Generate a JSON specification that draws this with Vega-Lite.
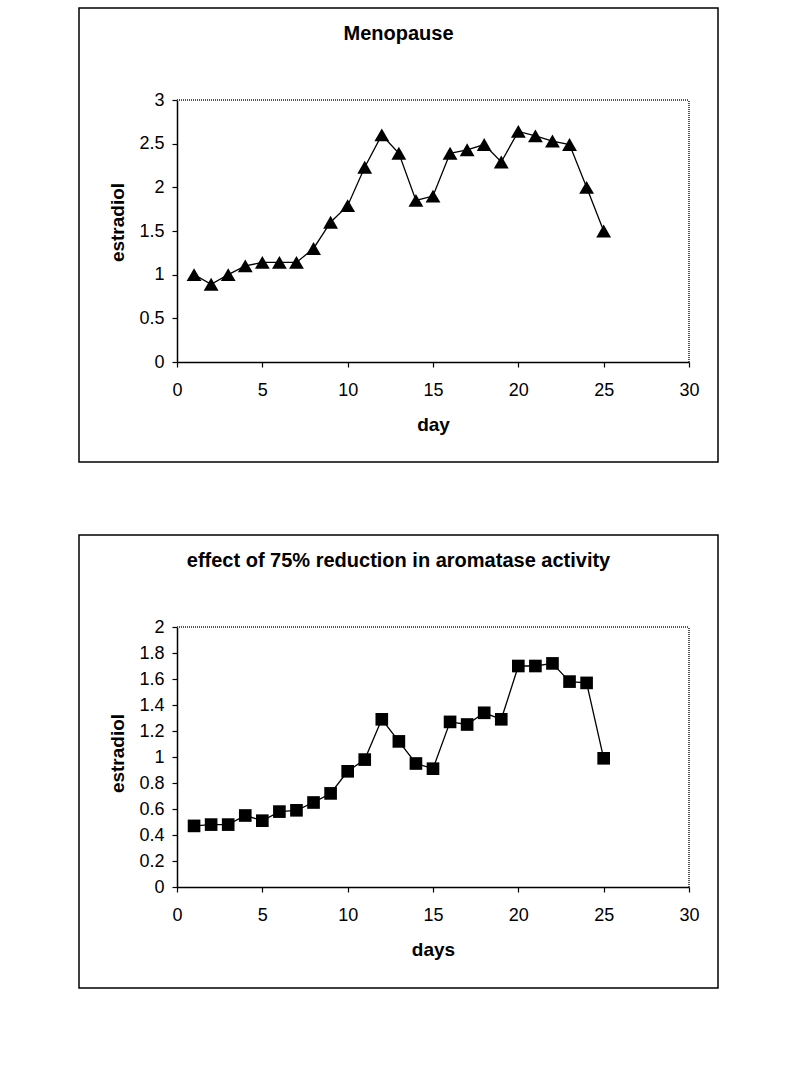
{
  "$schema": "https://vega.github.io/schema/vega-lite/v6.json",
  "padding": {"left": 78, "top": 7, "right": 0, "bottom": 0},
  "background": "white",
  "config": {
    "font": "Liberation Sans",
    "view": {"stroke": "black", "strokeWidth": 1.5},
    "axis": {
      "labelFont": "Liberation Sans", "labelFontSize": 18, "labelColor": "black", "labelFlush": false, "labelOverlap": false,
      "titleFont": "Liberation Sans", "titleFontSize": 19, "titleFontWeight": "bold", "titleColor": "black",
      "domainColor": "black", "domainWidth": 1.5, "tickColor": "black", "tickWidth": 1.2, "tickSize": 5,
      "grid": false
    },
    "title": {"font": "Liberation Sans", "fontSize": 20, "fontWeight": "bold", "color": "black", "anchor": "middle", "frame": "group"}
  },
  "datasets": {
    "meno": [
      {"day": 1, "estradiol": 1.0}, {"day": 2, "estradiol": 0.89}, {"day": 3, "estradiol": 1.0},
      {"day": 4, "estradiol": 1.1}, {"day": 5, "estradiol": 1.14}, {"day": 6, "estradiol": 1.14},
      {"day": 7, "estradiol": 1.14}, {"day": 8, "estradiol": 1.3}, {"day": 9, "estradiol": 1.6},
      {"day": 10, "estradiol": 1.79}, {"day": 11, "estradiol": 2.23}, {"day": 12, "estradiol": 2.6},
      {"day": 13, "estradiol": 2.39}, {"day": 14, "estradiol": 1.85}, {"day": 15, "estradiol": 1.9},
      {"day": 16, "estradiol": 2.39}, {"day": 17, "estradiol": 2.43}, {"day": 18, "estradiol": 2.49},
      {"day": 19, "estradiol": 2.29}, {"day": 20, "estradiol": 2.64}, {"day": 21, "estradiol": 2.59},
      {"day": 22, "estradiol": 2.53}, {"day": 23, "estradiol": 2.49}, {"day": 24, "estradiol": 2.0},
      {"day": 25, "estradiol": 1.5}
    ],
    "arom": [
      {"day": 1, "estradiol": 0.47}, {"day": 2, "estradiol": 0.48}, {"day": 3, "estradiol": 0.48},
      {"day": 4, "estradiol": 0.55}, {"day": 5, "estradiol": 0.51}, {"day": 6, "estradiol": 0.58},
      {"day": 7, "estradiol": 0.59}, {"day": 8, "estradiol": 0.65}, {"day": 9, "estradiol": 0.72},
      {"day": 10, "estradiol": 0.89}, {"day": 11, "estradiol": 0.98}, {"day": 12, "estradiol": 1.29},
      {"day": 13, "estradiol": 1.12}, {"day": 14, "estradiol": 0.95}, {"day": 15, "estradiol": 0.91},
      {"day": 16, "estradiol": 1.27}, {"day": 17, "estradiol": 1.25}, {"day": 18, "estradiol": 1.34},
      {"day": 19, "estradiol": 1.29}, {"day": 20, "estradiol": 1.7}, {"day": 21, "estradiol": 1.7},
      {"day": 22, "estradiol": 1.72}, {"day": 23, "estradiol": 1.58}, {"day": 24, "estradiol": 1.57},
      {"day": 25, "estradiol": 0.99}
    ]
  },
  "vconcat": [
    {
      "width": 639, "height": 454,
      "title": {"text": "Menopause", "offset": -52, "baseline": "alphabetic"},
      "data": {"name": "meno"},
      "encoding": {
        "x": {"field": "day", "type": "quantitative",
          "scale": {"domain": [0, 30], "range": [98, 610], "nice": false, "zero": false},
          "axis": {"title": "day", "values": [0, 5, 10, 15, 20, 25, 30], "offset": -100, "labelPadding": 14, "titlePadding": 16}},
        "y": {"field": "estradiol", "type": "quantitative",
          "scale": {"domain": [0, 3], "range": [354, 92], "nice": false},
          "axis": {"title": "estradiol", "values": [0, 0.5, 1, 1.5, 2, 2.5, 3], "format": ".1~f", "offset": -98, "labelPadding": 8, "titlePadding": 11, "titleY": 214}}
      },
      "layer": [
        {"mark": {"type": "rule", "color": "#555555", "strokeDash": [1, 1], "strokeWidth": 1},
         "encoding": {"x": {"datum": 0}, "x2": {"datum": 30}, "y": {"datum": 3}}},
        {"mark": {"type": "rule", "color": "#555555", "strokeDash": [1, 1], "strokeWidth": 1},
         "encoding": {"x": {"datum": 30}, "y": {"datum": 0}, "y2": {"datum": 3}}},
        {"mark": {"type": "line", "color": "black", "strokeWidth": 1.3}},
        {"mark": {"type": "point", "shape": "triangle-up", "filled": true, "color": "black", "size": 220, "opacity": 1}}
      ]
    },
    {
      "width": 639, "height": 453,
      "title": {"text": "effect of 75% reduction in aromatase activity", "offset": -52, "baseline": "alphabetic"},
      "data": {"name": "arom"},
      "encoding": {
        "x": {"field": "day", "type": "quantitative",
          "scale": {"domain": [0, 30], "range": [98, 610], "nice": false, "zero": false},
          "axis": {"title": "days", "values": [0, 5, 10, 15, 20, 25, 30], "offset": -101, "labelPadding": 14, "titlePadding": 16}},
        "y": {"field": "estradiol", "type": "quantitative",
          "scale": {"domain": [0, 2], "range": [352, 92], "nice": false},
          "axis": {"title": "estradiol", "values": [0, 0.2, 0.4, 0.6, 0.8, 1, 1.2, 1.4, 1.6, 1.8, 2], "format": ".1~f", "offset": -98, "labelPadding": 8, "titlePadding": 11, "titleY": 218}}
      },
      "layer": [
        {"mark": {"type": "rule", "color": "#555555", "strokeDash": [1, 1], "strokeWidth": 1},
         "encoding": {"x": {"datum": 0}, "x2": {"datum": 30}, "y": {"datum": 2}}},
        {"mark": {"type": "rule", "color": "#555555", "strokeDash": [1, 1], "strokeWidth": 1},
         "encoding": {"x": {"datum": 30}, "y": {"datum": 0}, "y2": {"datum": 2}}},
        {"mark": {"type": "line", "color": "black", "strokeWidth": 1.3}},
        {"mark": {"type": "point", "shape": "square", "filled": true, "color": "black", "size": 160, "opacity": 1}}
      ]
    }
  ],
  "spacing": 71
}
